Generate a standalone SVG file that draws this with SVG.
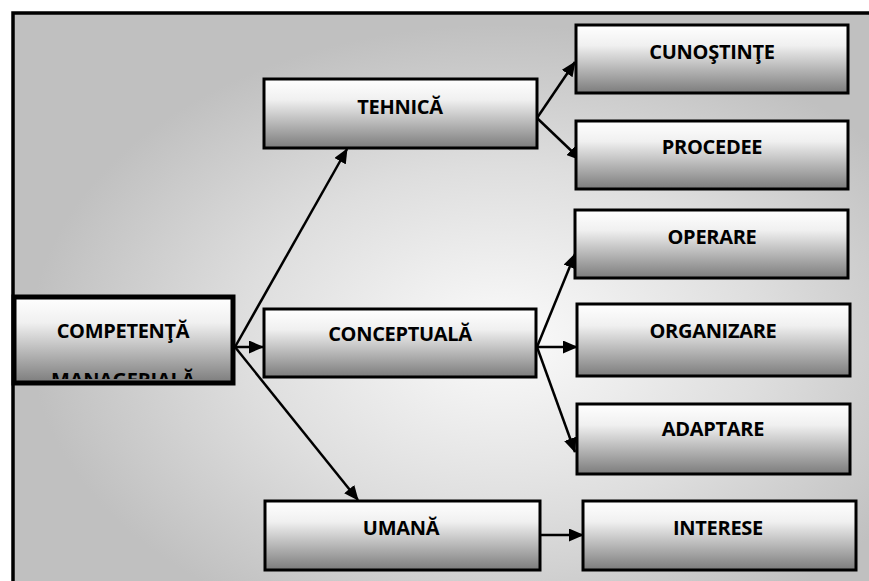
<svg xmlns="http://www.w3.org/2000/svg" width="869" height="581" viewBox="0 0 869 581">
  <defs>
    <radialGradient id="bg" cx="0.57" cy="0.57" r="0.55">
      <stop offset="0" stop-color="#fbfbfb"/>
      <stop offset="0.55" stop-color="#dedede"/>
      <stop offset="1" stop-color="#c0c0c0"/>
    </radialGradient>
    <linearGradient id="box" x1="0" y1="0" x2="0" y2="1">
      <stop offset="0" stop-color="#ffffff"/>
      <stop offset="0.3" stop-color="#f0f0f0"/>
      <stop offset="1" stop-color="#7c7c7c"/>
    </linearGradient>
    <marker id="arr" markerUnits="userSpaceOnUse" markerWidth="15" markerHeight="13" refX="14" refY="6.5" orient="auto">
      <path d="M0,0 L15,6.5 L0,13 z" fill="#000"/>
    </marker>
    <clipPath id="clipC">
      <rect x="16" y="299" width="216" height="80"/>
    </clipPath>
  </defs>
  <style>
    .node rect { fill: url(#box); stroke: #000; stroke-width: 3; }
    .node text { font-family: "Open Sans", "Liberation Sans", sans-serif; font-weight: 700; font-size: 20px; fill: #000; text-anchor: middle; letter-spacing: -0.3px; }
    .conn line { stroke: #000; stroke-width: 2.5; marker-end: url(#arr); }
  </style>
  <rect x="0" y="0" width="869" height="581" fill="#ffffff"/>
  <rect x="13" y="13" width="860" height="572" fill="url(#bg)"/>
  <path d="M13,581 L13,13 L869,13" fill="none" stroke="#000" stroke-width="3.5"/>

  <g class="conn" id="connectors">
    <line x1="235" y1="347" x2="347" y2="149"/>
    <line x1="235" y1="347" x2="263" y2="347"/>
    <line x1="235" y1="347" x2="358" y2="500"/>
    <line x1="537" y1="118" x2="575" y2="62"/>
    <line x1="537" y1="118" x2="581" y2="160"/>
    <line x1="537" y1="347" x2="575" y2="254"/>
    <line x1="537" y1="347" x2="577" y2="347"/>
    <line x1="537" y1="347" x2="575" y2="452"/>
    <line x1="540" y1="535" x2="583" y2="535"/>
  </g>

  <g class="node" id="competenta">
    <rect x="14" y="297" width="219" height="86" style="stroke-width:5"/>
    <g clip-path="url(#clipC)">
      <text x="123" y="338">COMPETENŢĂ</text>
      <text x="123" y="387">MANAGERIALĂ</text>
    </g>
  </g>
  <g class="node" id="tehnica">
    <rect x="264" y="79" width="273" height="69"/>
    <text x="400" y="114">TEHNICĂ</text>
  </g>
  <g class="node" id="cunostinte">
    <rect x="576" y="25" width="272" height="68"/>
    <text x="712" y="59">CUNOŞTINŢE</text>
  </g>
  <g class="node" id="procedee">
    <rect x="576" y="121" width="272" height="68"/>
    <text x="712" y="154">PROCEDEE</text>
  </g>
  <g class="node" id="conceptuala">
    <rect x="264" y="309" width="272" height="68"/>
    <text x="400" y="341">CONCEPTUALĂ</text>
  </g>
  <g class="node" id="operare">
    <rect x="575" y="210" width="273" height="68"/>
    <text x="712" y="244">OPERARE</text>
  </g>
  <g class="node" id="organizare">
    <rect x="577" y="304" width="273" height="72"/>
    <text x="713" y="338">ORGANIZARE</text>
  </g>
  <g class="node" id="adaptare">
    <rect x="577" y="404" width="273" height="70"/>
    <text x="713" y="436">ADAPTARE</text>
  </g>
  <g class="node" id="umana">
    <rect x="265" y="501" width="275" height="69"/>
    <text x="401" y="535">UMANĂ</text>
  </g>
  <g class="node" id="interese">
    <rect x="583" y="501" width="273" height="69"/>
    <text x="718" y="535">INTERESE</text>
  </g>
</svg>
